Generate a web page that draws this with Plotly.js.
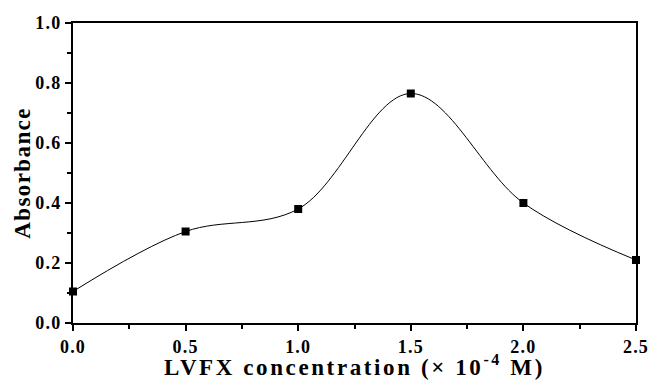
<!DOCTYPE html>
<html>
<head>
<meta charset="utf-8">
<script src="https://cdn.plot.ly/plotly-3.0.1.min.js"></script>
<style>
html,body{margin:0;padding:0;background:#fff;}
#chart{width:652px;height:380px;}
#chart .xtick text, #chart .ytick text{letter-spacing:1.2px;}
#chart .xtitle{letter-spacing:2.6px;}
#chart .ytitle{letter-spacing:1.4px;}
</style>
</head>
<body>
<div id="chart"></div>
<script>
const concentration = [0.0, 0.5, 1.0, 1.5, 2.0, 2.5];
const absorbance = [0.105, 0.305, 0.38, 0.765, 0.40, 0.21];
const xTickVals = [0.0, 0.5, 1.0, 1.5, 2.0, 2.5];
const xTickText = ["0.0", "0.5", "1.0", "1.5", "2.0", "2.5"];
const yTickVals = [0.0, 0.2, 0.4, 0.6, 0.8, 1.0];
const yTickText = ["0.0", "0.2", "0.4", "0.6", "0.8", "1.0"];
const xTitle = "LVFX concentration (× 10<sup>-4</sup> M)";
const yTitle = "Absorbance";

const fontFamily = "Liberation Serif, Times New Roman, serif";
const bold = s => "<b>" + s + "</b>";

const trace = {
  x: concentration,
  y: absorbance,
  mode: "lines+markers",
  line: {shape: "spline", smoothing: 1.0, color: "#000", width: 1},
  marker: {symbol: "square", size: 8, color: "#000"},
  cliponaxis: false,
  hoverinfo: "skip"
};

const layout = {
  width: 652, height: 380,
  margin: {l: 73, r: 16, t: 23, b: 57},
  paper_bgcolor: "#fff", plot_bgcolor: "#fff",
  showlegend: false,
  font: {family: fontFamily, color: "#000"},
  xaxis: {
    range: [0, 2.5], tickvals: xTickVals, ticktext: xTickText.map(bold),
    showgrid: false, zeroline: false,
    showline: true, linecolor: "#000", linewidth: 2, mirror: true,
    ticks: "outside", ticklen: 6, tickwidth: 2, tickcolor: "#000",
    minor: {dtick: 0.25, ticks: "outside", ticklen: 4, tickwidth: 2, tickcolor: "#000"},
    tickfont: {family: fontFamily, size: 18, color: "#000"},
    title: {text: bold(xTitle), font: {family: fontFamily, size: 23, color: "#000"}, standoff: 0}
  },
  yaxis: {
    range: [0, 1.0], tickvals: yTickVals, ticktext: yTickText.map(bold),
    showgrid: false, zeroline: false,
    showline: true, linecolor: "#000", linewidth: 2, mirror: true,
    ticks: "outside", ticklen: 6, tickwidth: 2, tickcolor: "#000",
    minor: {dtick: 0.1, ticks: "outside", ticklen: 4, tickwidth: 2, tickcolor: "#000"},
    tickfont: {family: fontFamily, size: 18, color: "#000"},
    title: {text: bold(yTitle), font: {family: fontFamily, size: 23, color: "#000"}, standoff: 2}
  }
};

Plotly.newPlot("chart", [trace], layout, {displayModeBar: false, staticPlot: true});
</script>
</body>
</html>
